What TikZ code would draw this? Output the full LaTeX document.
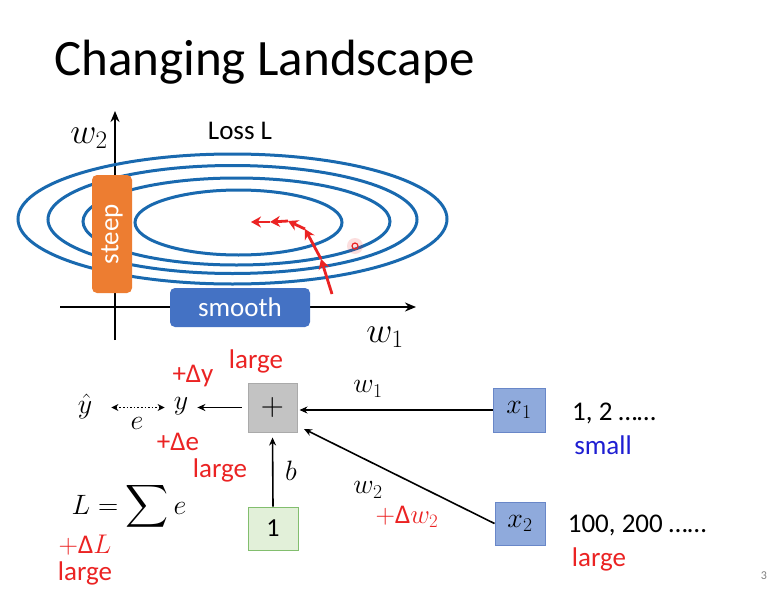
\RequirePackage{fix-cm}
\documentclass[tikz,border=0pt]{standalone}
\usepackage{amsmath}
\usepackage{graphicx}
\usepackage{fontspec}
\setmainfont{Carlito}
\usetikzlibrary{arrows.meta,calc}
\definecolor{contour}{RGB}{25,105,175}
\definecolor{myred}{RGB}{235,35,35}
\definecolor{myblue}{RGB}{30,30,210}
\definecolor{steepc}{RGB}{237,125,49}
\definecolor{smoothc}{RGB}{68,114,196}
\definecolor{xfill}{RGB}{143,170,220}
\definecolor{xdraw}{RGB}{105,135,200}
\definecolor{onefill}{RGB}{226,240,217}
\definecolor{onedraw}{RGB}{130,190,110}
\definecolor{plusfill}{RGB}{195,195,195}
\definecolor{plusdraw}{RGB}{170,170,170}
\begin{document}
\begin{tikzpicture}[x=1pt,y=-1pt,
  lbl/.style={inner sep=0pt,font=\fontsize{27}{30}\selectfont},
  mlbl/.style={inner sep=0pt,font=\fontsize{28}{30}\selectfont},
  redt/.style={lbl,text=myred},
  contourline/.style={draw=contour,line width=3pt},
  axisline/.style={line width=2.5pt,-{Stealth[length=11pt,width=9pt]}},
  conn/.style={line width=1.6pt,-{Stealth[length=8pt,width=7pt]}},
  redarr/.style={draw=myred,line width=2.8pt,-{Stealth[length=10pt,width=11pt]}},
  tagbox/.style={rounded corners=5pt,text=white,inner sep=0pt,font=\fontsize{27}{30}\selectfont},
  sqbox/.style={draw,line width=1pt,inner sep=0pt,font=\fontsize{28}{30}\selectfont}
]
\useasboundingbox (0,0) rectangle (784,589);
\fill[white] (0,0) rectangle (784,589);

% title
\node[anchor=west,inner sep=0pt,font=\fontsize{51}{55}\selectfont] (title) at (54,62) {Changing Landscape};

% axes
\coordinate (xa0) at (60,307);
\coordinate (xa1) at (416,307);
\coordinate (ya0) at (115,340);
\coordinate (ya1) at (115,111);
\draw[axisline] (xa0) -- (xa1);
\draw[axisline] (ya0) -- (ya1);
\node[inner sep=0pt,font=\fontsize{36}{40}\selectfont] (w2ax) at (89,138) {$w_2$};
\node[inner sep=0pt,font=\fontsize{36}{40}\selectfont] (w1ax) at (385,337) {$w_1$};
\node[lbl] (loss) at (240,131) {Loss L};

% contours
\draw[contourline] (232.5,219) ellipse [x radius=214.5,y radius=65];
\draw[contourline] (232.5,219.5) ellipse [x radius=184.5,y radius=54];
\draw[contourline] (236.5,221.5) ellipse [x radius=153.5,y radius=43.5];
\draw[contourline] (238.5,222.5) ellipse [x radius=103.5,y radius=32.5];

% tags
\node[tagbox,fill=steepc,rotate=90,minimum width=118pt,minimum height=40pt] (steep) at (112,234) {steep};
\node[tagbox,fill=smoothc,minimum width=140pt,minimum height=39pt] (smooth) at (240,307.5) {smooth};

% red path
\coordinate (r0) at (332,294);
\coordinate (r1) at (321,259);
\coordinate (r2) at (305,229);
\coordinate (r3) at (288,221);
\coordinate (r4) at (270,222);
\coordinate (r5) at (251,222);
\draw[redarr] (r0) -- (r1);
\draw[redarr] (r1) -- (r2);
\draw[redarr] (r2) -- (r3);
\draw[redarr] (r3) -- (r4);
\draw[redarr] (r4) -- (r5);

% pointer
\fill[myred,opacity=0.15] (355,246) circle (8);
\draw[myred,line width=1.2pt] (355,246) circle (3);

% network
\node[mlbl] (yhat) at (85,406) {$\hat{y}$};
\node[mlbl] (y) at (181,406) {$y$};
\node[sqbox,fill=plusfill,draw=plusdraw,minimum width=49pt,minimum height=49pt,font=\fontsize{32}{34}\selectfont] (plus) at (272.5,407.5) {$+$};
\node[sqbox,fill=onefill,draw=onedraw,minimum width=50pt,minimum height=43pt,font=\fontsize{26}{28}\selectfont] (one) at (273,528.5) {1};
\node[sqbox,fill=xfill,draw=xdraw,minimum width=52pt,minimum height=44pt] (x1) at (519,410) {$x_1$};
\node[sqbox,fill=xfill,draw=xdraw,minimum width=50pt,minimum height=43pt] (x2) at (520,523.5) {$x_2$};
\coordinate (t2) at (304,429);

\draw[conn,shorten <=6pt,shorten >=9pt] (plus.west) -- (y.east |- plus.west);
\draw[line width=1.6pt,dotted,{Stealth[length=7pt,width=7pt]}-{Stealth[length=7pt,width=7pt]},shorten <=19pt,shorten >=9pt] (yhat.east |- plus.west) -- (y.west |- plus.west);
\draw[conn,shorten >=5pt] (one.north) -- (plus.south);
\draw[conn,shorten >=2pt] (x1.west) -- (plus.east |- x1.west);
\draw[conn] (x2.west) -- (t2);

\node[mlbl] (elbl) at (137,423) {$e$};
\node[mlbl] (blbl) at (291,471) {$b$};
\node[mlbl] (w1lbl) at (368,389) {$w_1$};
\node[mlbl] (w2lbl) at (368,490) {$w_2$};
\node[mlbl] (Leq) at (129,506) {$L=\mathop{\scalebox{1.2}{$\displaystyle\sum$}} e$};

\node[redt] (dy) at (193,376) {+Δy};
\node[redt] (ly) at (256,361) {large};
\node[redt] (de) at (178,442) {+Δe};
\node[redt] (le) at (220,470) {large};
\node[redt] (dL) at (85,545) {$+$Δ$L$};
\node[redt] (lL) at (85,573) {large};
\node[redt] (dw) at (407,517) {$+$Δ$w_2$};

\node[lbl] (v1) at (614,413) {1, 2 ……};
\node[lbl,text=myblue] (sm) at (603,445) {small};
\node[lbl] (v2) at (637,525) {100, 200 ……};
\node[redt] (lg) at (599,559) {large};

\node[inner sep=0pt,text=gray,font=\fontsize{12}{14}\selectfont] (pg) at (764,576) {3};
\end{tikzpicture}
\end{document}
